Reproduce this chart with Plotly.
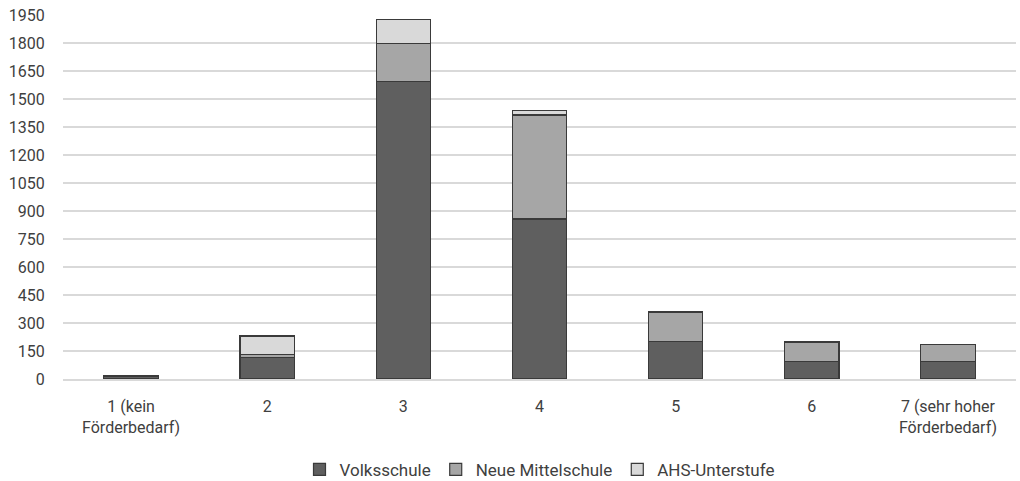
import plotly.graph_objects as go

categories = ["1 (kein<br>Förderbedarf)", "2", "3", "4", "5", "6", "7 (sehr hoher<br>Förderbedarf)"]
volksschule = [12, 115, 1594, 857, 200, 95, 93]
neue_mittelschule = [3, 15, 204, 557, 155, 100, 90]
ahs_unterstufe = [1, 100, 130, 23, 5, 8, 3]
y_ticks = list(range(0, 1951, 150))

FONT = "Roboto, sans-serif"
line = dict(color="#3a3a3a", width=1.2)

fig = go.Figure()
fig.add_trace(go.Bar(x=categories, y=volksschule, name="Volksschule",
                     marker=dict(color="#5f5f5f", line=line)))
fig.add_trace(go.Bar(x=categories, y=neue_mittelschule, name="Neue Mittelschule",
                     marker=dict(color="#a6a6a6", line=line)))
fig.add_trace(go.Bar(x=categories, y=ahs_unterstufe, name="AHS-Unterstufe",
                     marker=dict(color="#d9d9d9", line=line)))

fig.update_layout(
    barmode="stack",
    bargap=0.6,
    width=1020, height=481,
    margin=dict(l=63, r=4, t=15, b=102, autoexpand=False),
    paper_bgcolor="white", plot_bgcolor="white",
    font=dict(family=FONT, size=16, color="#404040"),
    legend=dict(orientation="h", x=0.5, xanchor="center", y=-0.2, yanchor="top",
                font=dict(size=17, color="#404040"), traceorder="normal",
                itemwidth=30),
    yaxis=dict(range=[0, 1950], tickvals=y_ticks, showgrid=True, automargin=False,
               gridcolor="#d9d9d9", gridwidth=1.5, zeroline=False,
               ticks="outside", ticklen=14, tickcolor="rgba(0,0,0,0)",
               tickfont=dict(size=16)),
    xaxis=dict(showline=True, linecolor="#d9d9d9", linewidth=1.5, automargin=False,
               ticks="outside", ticklen=12, tickcolor="rgba(0,0,0,0)",
               tickfont=dict(size=16)),
)

fig.write_html("out.html", config={"displayModeBar": False},
               post_script="document.body.style.margin='0';")
